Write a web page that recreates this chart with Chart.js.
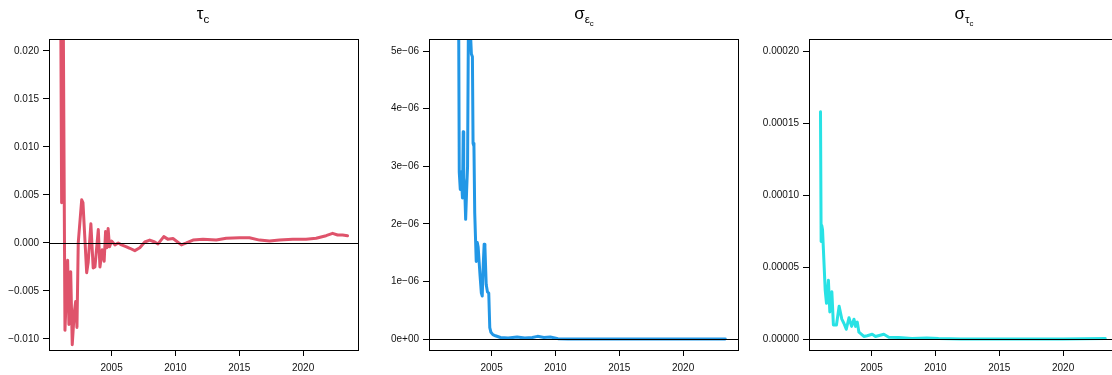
<!DOCTYPE html>
<html>
<head>
<meta charset="utf-8">
<script src="https://cdn.jsdelivr.net/npm/chart.js@4/dist/chart.umd.min.js"></script>
<style>
    html, body { margin: 0; padding: 0; background: #fff; width: 1112px; height: 375px; overflow: hidden; }
    .panel { position: absolute; top: 0; width: 380px; height: 375px; }
    .title {
        position: absolute; top: 4px; transform: translateX(-50%);
        font-family: "Liberation Sans", Arial, sans-serif; font-size: 17px; color: #000;
        white-space: nowrap; line-height: 20px;
    }
    .title sub { font-size: 68%; vertical-align: -0.35em; line-height: 0; }
</style>
</head>
<body>
<div class="panel" style="left:0"><canvas id="tauChart" width="380" height="375"></canvas></div>
<div class="panel" style="left:380px"><canvas id="sigmaEpsChart" width="380" height="375"></canvas></div>
<div class="panel" style="left:760px"><canvas id="sigmaTauChart" width="380" height="375"></canvas></div>
<div class="title" style="left:203px">τ<sub>c</sub></div>
<div class="title" style="left:584px">σ<sub>ε<sub>c</sub></sub></div>
<div class="title" style="left:964px">σ<sub>τ<sub>c</sub></sub></div>

<script>
// x axis (years)
const xTicks = [2005, 2010, 2015, 2020];
const xRange = [2000.1, 2024.3];

// tau_c
const tauYears = [2001.0, 2001.09, 2001.2, 2001.35, 2001.56, 2001.66, 2001.8, 2001.92, 2002.08, 2002.19,
    2002.29, 2002.39, 2002.66, 2002.76, 2003.05, 2003.17, 2003.38, 2003.56, 2003.7, 2003.96,
    2004.09, 2004.27, 2004.42, 2004.53, 2004.63, 2004.73, 2004.84, 2005.0, 2005.26, 2005.52,
    2005.78, 2006.17, 2006.43, 2006.82, 2007.21, 2007.6, 2007.99, 2008.38, 2008.64, 2009.09,
    2009.4, 2009.81, 2010.47, 2010.86, 2011.38, 2012.16, 2013.2, 2013.98, 2015.02, 2015.8,
    2016.59, 2017.37, 2018.15, 2019.19, 2020.23, 2021.02, 2021.8, 2022.31, 2022.7, 2023.09, 2023.48];
const tauValues = [0.030, 0.0042, 0.028, -0.0091, -0.0018, -0.0085, -0.0030, -0.0106, -0.0072, -0.0061,
    -0.0088, 0.0000, 0.0045, 0.0042, -0.0031, -0.0020, 0.0020, -0.0026, -0.0025, 0.0014,
    -0.0025, -0.0007, -0.0019, 0.0012, -0.0005, 0.0015, -0.0004, 0.0002, -0.0002, 0.0000,
    -0.0002, -0.0004, -0.00055, -0.0008, -0.0005, 0.0001, 0.0003, 0.0001, -0.0001, 0.00066,
    0.0004, 0.00046, -0.0002, 0.0000, 0.0003, 0.00038, 0.0003, 0.00049, 0.00055, 0.00055,
    0.0003, 0.0002, 0.0003, 0.00038, 0.0004, 0.00049, 0.00076, 0.0010, 0.00083, 0.00083, 0.00076];
const tauTicks = [-0.010, -0.005, 0.000, 0.005, 0.010, 0.015, 0.020];
const tauTickLabels = ['\u22120.010', '\u22120.005', '0.000', '0.005', '0.010', '0.015', '0.020'];

// sigma_eps_c
const sigmaEpsYears = [2001.0, 2001.5, 2002.0, 2002.38, 2002.47, 2002.55, 2002.62, 2002.72, 2002.78, 2002.82,
    2002.9, 2002.97, 2003.05, 2003.12, 2003.2, 2003.35, 2003.42, 2003.5, 2003.55, 2003.62,
    2003.68, 2003.75, 2003.8, 2003.88, 2003.95, 2004.1, 2004.2, 2004.27, 2004.35, 2004.42,
    2004.48, 2004.58, 2004.68, 2004.78, 2004.86, 2004.95, 2005.1, 2005.3, 2005.7, 2006.3,
    2007.0, 2007.6, 2008.2, 2008.6, 2009.1, 2009.6, 2010.2, 2011.0, 2013.0, 2016.0,
    2019.0, 2022.0, 2023.3];
const sigmaEpsValues = [3.0e-5, 2.0e-5, 1.2e-5, 8.0e-6, 2.9e-6, 2.6e-6, 2.9e-6, 2.45e-6, 3.6e-6, 2.8e-6,
    2.6e-6, 2.08e-6, 2.6e-6, 3.0e-6, 6.0e-6, 5.3e-6, 4.95e-6, 4.9e-6, 3.4e-6, 3.35e-6,
    2.2e-6, 1.7e-6, 1.35e-6, 1.68e-6, 1.6e-6, 1.1e-6, 0.8e-6, 0.75e-6, 1.3e-6, 1.65e-6,
    1.6e-6, 0.95e-6, 0.82e-6, 0.8e-6, 0.2e-6, 0.12e-6, 0.08e-6, 0.06e-6, 0.03e-6, 0.02e-6,
    0.04e-6, 0.02e-6, 0.03e-6, 0.05e-6, 0.03e-6, 0.04e-6, 0.01e-6, 0.006e-6, 0.004e-6, 0.003e-6,
    0.003e-6, 0.005e-6, 0.006e-6];
const sigmaEpsTicks = [0, 1e-6, 2e-6, 3e-6, 4e-6, 5e-6];
const sigmaEpsTickLabels = ['0e+00', '1e\u221206', '2e\u221206', '3e\u221206', '4e\u221206', '5e\u221206'];

// sigma_tau_c
const sigmaTauYears = [2001.0, 2001.05, 2001.1, 2001.16, 2001.37, 2001.47, 2001.62, 2001.73, 2001.89, 2002.01,
    2002.25, 2002.46, 2002.67, 2002.84, 2003.02, 2003.23, 2003.44, 2003.62, 2003.75, 2003.88,
    2004.01, 2004.4, 2004.66, 2005.05, 2005.31, 2005.96, 2006.35, 2007.12, 2008.16, 2009.33,
    2010.24, 2012.0, 2015.0, 2020.0, 2023.3];
const sigmaTauValues = [15.8e-5, 6.8e-5, 7.9e-5, 7.6e-5, 3.4e-5, 2.5e-5, 4.1e-5, 1.9e-5, 3.3e-5, 1.0e-5,
    1.0e-5, 2.3e-5, 1.4e-5, 1.1e-5, 0.7e-5, 1.5e-5, 0.9e-5, 1.4e-5, 0.9e-5, 1.2e-5,
    0.5e-5, 0.2e-5, 0.25e-5, 0.35e-5, 0.2e-5, 0.35e-5, 0.15e-5, 0.12e-5, 0.05e-5, 0.1e-5,
    0.05e-5, 0.03e-5, 0.02e-5, 0.02e-5, 0.05e-5];
const sigmaTauTicks = [0, 0.00005, 0.00010, 0.00015, 0.00020];
const sigmaTauTickLabels = ['0.00000', '0.00005', '0.00010', '0.00015', '0.00020'];

const tickFont = { family: '"Liberation Sans", Arial, sans-serif', size: 10 };

// R-style box round the plot region, plus the abline at zero drawn over the series
const boxPlugin = {
    id: 'plotBox',
    afterDatasetsDraw(chart) {
        const a = chart.chartArea;
        const ctx = chart.ctx;
        const y0 = Math.round(chart.scales.y.getPixelForValue(0)) + 0.5;
        ctx.save();
        ctx.strokeStyle = '#000';
        ctx.lineWidth = 1;
        ctx.beginPath();
        ctx.moveTo(a.left, y0);
        ctx.lineTo(a.right, y0);
        ctx.stroke();
        ctx.strokeRect(Math.round(a.left) + 0.5, Math.round(a.top) + 0.5,
            Math.round(a.right - a.left), Math.round(a.bottom - a.top));
        ctx.restore();
    }
};

function createPanel(canvasId, years, values, color, yRange, yTicks, yTickLabels) {
    const points = years.map((year, i) => ({ x: year, y: values[i] }));

    return new Chart(document.getElementById(canvasId), {
        type: 'line',
        data: {
            datasets: [{
                data: points,
                borderColor: color,
                borderWidth: 3,
                borderJoinStyle: 'round',
                borderCapStyle: 'round',
                pointRadius: 0,
                tension: 0,
                clip: 0
            }]
        },
        options: {
            responsive: false,
            animation: false,
            devicePixelRatio: 1,
            layout: { padding: { left: 0, right: 22, top: 39, bottom: 0 } },
            plugins: { legend: { display: false }, tooltip: { enabled: false } },
            scales: {
                x: {
                    type: 'linear',
                    min: xRange[0],
                    max: xRange[1],
                    border: { display: false },
                    grid: { drawOnChartArea: false, drawTicks: true, tickLength: 6, color: '#000' },
                    ticks: { font: tickFont, color: '#111', padding: 6, maxRotation: 0,
                        callback: v => String(v) },
                    afterBuildTicks: scale => { scale.ticks = xTicks.map(v => ({ value: v })); },
                    afterFit: scale => { scale.height = 25; }
                },
                y: {
                    type: 'linear',
                    min: yRange[0],
                    max: yRange[1],
                    border: { display: false },
                    grid: { drawOnChartArea: false, drawTicks: true, tickLength: 6, color: '#000' },
                    ticks: { font: tickFont, color: '#111', padding: 4,
                        callback: v => {
                            const i = yTicks.indexOf(v);
                            return i >= 0 ? yTickLabels[i] : '';
                        } },
                    afterBuildTicks: scale => { scale.ticks = yTicks.map(v => ({ value: v })); },
                    afterFit: scale => { scale.width = 49; }
                }
            }
        },
        plugins: [boxPlugin]
    });
}

createPanel('tauChart', tauYears, tauValues, '#DF536B', [-0.01115, 0.02125], tauTicks, tauTickLabels);
createPanel('sigmaEpsChart', sigmaEpsYears, sigmaEpsValues, '#2297E6', [-0.187e-6, 5.21e-6], sigmaEpsTicks, sigmaEpsTickLabels);
createPanel('sigmaTauChart', sigmaTauYears, sigmaTauValues, '#28E2E5', [-0.0000074, 0.0002085], sigmaTauTicks, sigmaTauTickLabels);
</script>
</body>
</html>
